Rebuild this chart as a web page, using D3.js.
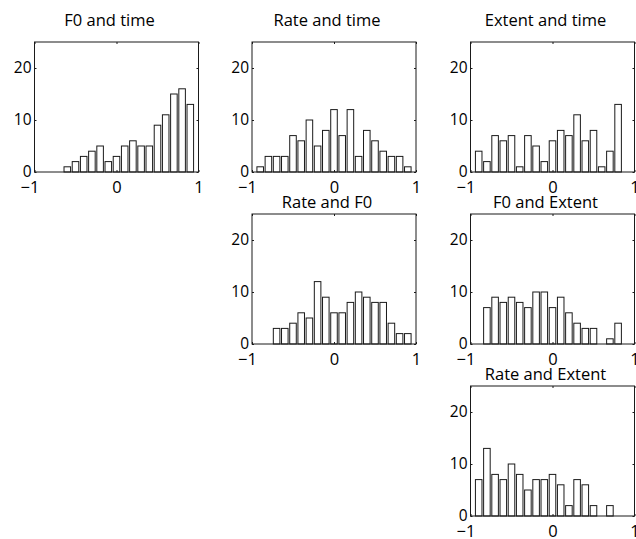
<!DOCTYPE html>
<html><head><meta charset="utf-8">
<script src="https://cdn.jsdelivr.net/npm/d3@7"></script>
<style>
html,body{margin:0;padding:0;background:#fff;}
svg{display:block;}
text{font-family:"Open Sans","Liberation Sans",Arial,sans-serif;fill:#000;}
</style></head>
<body>
<script>
// Bin centres shared by all histograms
const binCenters = [-0.9,-0.8,-0.7,-0.6,-0.5,-0.4,-0.3,-0.2,-0.1,0,0.1,0.2,0.3,0.4,0.5,0.6,0.7,0.8,0.9];
// Counts per bin for each panel
const f0Time      = [0,0,0,1,2,3,4,5,2,3,5,6,5,5,9,11,15,16,13];
const rateTime    = [1,3,3,3,7,6,10,5,8,12,7,12,3,8,6,4,3,3,1];
const extentTime  = [4,2,7,6,7,1,7,5,2,6,8,7,11,6,8,1,4,13,0];
const rateF0      = [0,0,3,3,4,6,5,12,9,6,6,8,10,9,8,8,4,2,2];
const f0Extent    = [0,7,9,8,9,8,7,10,10,7,9,6,4,3,3,0,1,4,0];
const rateExtent  = [7,13,8,7,10,8,5,7,7,8,6,2,7,6,2,0,2,0,0];
const titles = ["F0 and time","Rate and time","Extent and time","Rate and F0","F0 and Extent","Rate and Extent"];
const xTicks = [-1,0,1];
const xTickLabels = ["\u22121","0","1"];
const yTicks = [0,10,20];

const panels = [
  {title:titles[0], counts:f0Time,     col:0,row:0},
  {title:titles[1], counts:rateTime,   col:1,row:0},
  {title:titles[2], counts:extentTime, col:2,row:0},
  {title:titles[3], counts:rateF0,     col:1,row:1},
  {title:titles[4], counts:f0Extent,   col:2,row:1},
  {title:titles[5], counts:rateExtent, col:2,row:2}
];

const W = 636, H = 539;
const colLeft = [34.5, 252, 470.5];
const rowTop = [42, 214, 386];
const titleOffset = [16, 6.5, 6.5];
const pw = 164, ph = 130;
const ink = "#1a1a1a";
const fontStack = '"Open Sans","Liberation Sans",Arial,sans-serif';

const svg = d3.select("body").append("svg").attr("width", W).attr("height", H);

panels.forEach(p => {
  const g = svg.append("g").attr("transform", `translate(${colLeft[p.col]},${rowTop[p.row]})`);
  const x = d3.scaleLinear().domain([-1,1]).range([0,pw]);
  const y = d3.scaleLinear().domain([0,25]).range([ph,0]);
  const half = 0.04;

  g.selectAll("rect.bar")
    .data(binCenters.map((c,i)=>({c, v:p.counts[i]})).filter(d=>d.v>0))
    .enter().append("rect").attr("class","bar")
    .attr("x", d => x(d.c - half))
    .attr("width", d => x(d.c + half) - x(d.c - half))
    .attr("y", d => y(d.v))
    .attr("height", d => y(0) - y(d.v))
    .attr("fill","#fff").attr("stroke", ink).attr("stroke-width", 1);

  const bottom = d3.axisBottom(x).tickValues(xTicks).tickFormat((d,i)=>xTickLabels[i])
    .tickSizeInner(-2).tickSizeOuter(0).tickPadding(9.5);
  const top = d3.axisTop(x).tickValues(xTicks).tickFormat("").tickSizeInner(-2).tickSizeOuter(0);
  const left = d3.axisLeft(y).tickValues(yTicks).tickSizeInner(-2).tickSizeOuter(0).tickPadding(3);
  const right = d3.axisRight(y).tickValues(yTicks).tickFormat("").tickSizeInner(-2).tickSizeOuter(0);

  const gb = g.append("g").attr("transform",`translate(0,${ph})`).call(bottom);
  const gt = g.append("g").call(top);
  const gl = g.append("g").call(left);
  const gr = g.append("g").attr("transform",`translate(${pw},0)`).call(right);
  [gb,gt,gl,gr].forEach(a => {
    a.select(".domain").remove();
    a.selectAll("line").attr("stroke", ink);
    a.selectAll("text").attr("fill","#000").style("font-family", fontStack);
  });
  gl.selectAll("text").attr("font-size", 15.5);
  gb.selectAll("text").attr("font-size", 16.5);
  gb.selectAll("text").filter((d)=>d===-1).attr("dx", -5);

  g.append("rect").attr("x",0).attr("y",0).attr("width",pw).attr("height",ph)
    .attr("fill","none").attr("stroke",ink).attr("stroke-width",1);

  g.append("text").attr("x", pw/2 - 7).attr("y", -titleOffset[p.row])
    .attr("text-anchor","middle").attr("font-size",16.5)
    .style("font-family", fontStack).text(p.title);
});
</script>
</body></html>
